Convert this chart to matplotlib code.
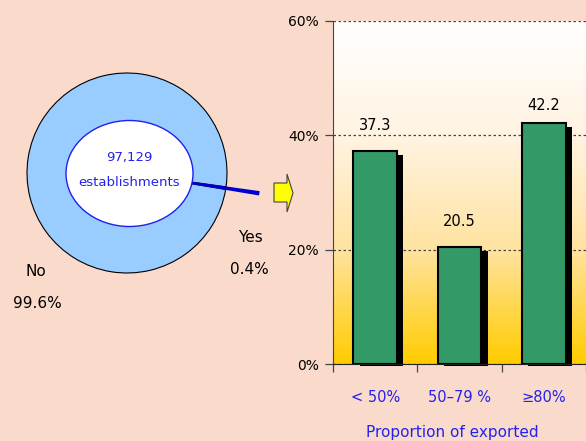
import numpy as np
import matplotlib
matplotlib.use("Agg")
import matplotlib.pyplot as plt
from matplotlib.patches import Ellipse, Polygon
from matplotlib.colors import LinearSegmentedColormap

# export status of establishments
export_labels = ["No", "Yes"]
export_share = [99.6, 0.4]
total_text = "97,129\nestablishments"

# exporters broken down by proportion of output exported
categories = ["< 50%", "50\u201379 %", "\u226580%"]
shares = [37.3, 20.5, 42.2]

W, H = 586, 441
bg = "#FADACB"
blue_txt = "#2222EE"

plt.rcParams["font.family"] = "DejaVu Sans"
fig = plt.figure(figsize=(W / 100, H / 100), dpi=100, facecolor=bg)


def px_box(x0, y0, x1, y1):
    # pixel box (top-left origin) -> figure fraction rect
    return [x0 / W, 1 - y1 / H, (x1 - x0) / W, (y1 - y0) / H]


# ---- donut on the left ----
axp = fig.add_axes(px_box(0, 40, 290, 330))
axp.set_facecolor("none")
axp.axis("off")
wedges, _ = axp.pie(export_share, colors=["#99CCFF", "#0000FF"],
                    startangle=-8, explode=[0, 0.33], radius=1.0,
                    wedgeprops=dict(edgecolor="black", linewidth=0.8))
wedges[1].set_linewidth(1.3)
wedges[1].set_edgecolor("#0000CC")
axp.add_patch(Ellipse((0.025, -0.005), 1.27, 1.06, facecolor="white",
                      edgecolor="#2020EE", linewidth=1.0, zorder=5))
axp.text(0.025, 0.16, total_text.split("\n")[0], color=blue_txt,
         fontsize=9.5, ha="center", va="center", zorder=6)
axp.text(0.025, -0.10, total_text.split("\n")[1], color=blue_txt,
         fontsize=9.5, ha="center", va="center", zorder=6)
axp.set_xlim(-1.27, 1.63)
axp.set_ylim(-1.57, 1.33)
axp.set_aspect("equal")

axp.text(1.23, -0.65, export_labels[1], fontsize=11, ha="center", va="center")
axp.text(1.22, -0.97, "%.1f%%" % export_share[1], fontsize=11, ha="center", va="center")
axp.text(-0.91, -0.98, export_labels[0], fontsize=11, ha="center", va="center")
axp.text(-0.90, -1.31, "%.1f%%" % export_share[0], fontsize=11, ha="center", va="center")

# yellow block arrow pointing at the bar chart
arrow_px = [(274, 183), (287, 183), (287, 174), (293, 193),
            (287, 212), (287, 202), (274, 202)]
fig.patches.append(Polygon([(x / W, 1 - y / H) for x, y in arrow_px],
                           closed=True, facecolor="#FFFF00", edgecolor="#444444",
                           linewidth=0.8, transform=fig.transFigure, figure=fig))

# ---- bar chart on the right ----
ax = fig.add_axes(px_box(333, 21, 586, 364))
ax.set_xlim(-0.5, 2.5)
ax.set_ylim(0, 60)

grad = LinearSegmentedColormap.from_list("bggrad", ["#FFFFFF", "#FFF3E2", "#FFE3A0", "#FFCC00"])
ramp = np.linspace(0, 1, 256).reshape(-1, 1)
ax.imshow(ramp, cmap=grad, aspect="auto", origin="upper",
          extent=[-0.5, 2.5, 0, 60], zorder=0)

ax.yaxis.grid(True, linestyle=(0, (2, 2)), color="#444444", linewidth=0.9)
ax.set_axisbelow(True)

x = np.arange(len(categories))
bw = 0.52
# drop shadows, nudged right and down
ax.bar(x + 0.075, [v - 0.35 for v in shares], width=bw, bottom=-0.35,
       color="black", zorder=2, clip_on=False)
ax.bar(x, shares, width=bw, color="#339966", edgecolor="black",
       linewidth=1.5, zorder=3)

label_pad = [25, 25, 17]
for xi, v, p in zip(x, shares, label_pad):
    ax.annotate("%.1f" % v, (xi, v), xytext=(0, p), textcoords="offset pixels",
                ha="center", va="center", fontsize=10.5, zorder=4)

ax.set_yticks([0, 20, 40, 60])
ax.set_yticklabels(["0%", "20%", "40%", "60%"], fontsize=10)
ax.tick_params(axis="y", length=6, width=0.9, color="#444444", pad=4)

ax.set_xticks([-0.5, 0.5, 1.5, 2.5], minor=False)
ax.set_xticklabels([])
ax.tick_params(axis="x", which="major", length=6, width=0.9, color="#444444")
ax.set_xticks(x, minor=True)
ax.set_xticklabels(categories, minor=True, color=blue_txt, fontsize=10.5)
ax.tick_params(axis="x", which="minor", length=0, pad=19)

for s in ["top", "right"]:
    ax.spines[s].set_visible(False)
ax.spines["left"].set_color("#444444")
ax.spines["bottom"].set_color("#222222")
ax.spines["bottom"].set_zorder(5)

fig.text(452 / W, 1 - 433 / H, "Proportion of exported", color=blue_txt,
         fontsize=11, ha="center", va="center")

fig.savefig("out.png", dpi=100, facecolor=bg)
